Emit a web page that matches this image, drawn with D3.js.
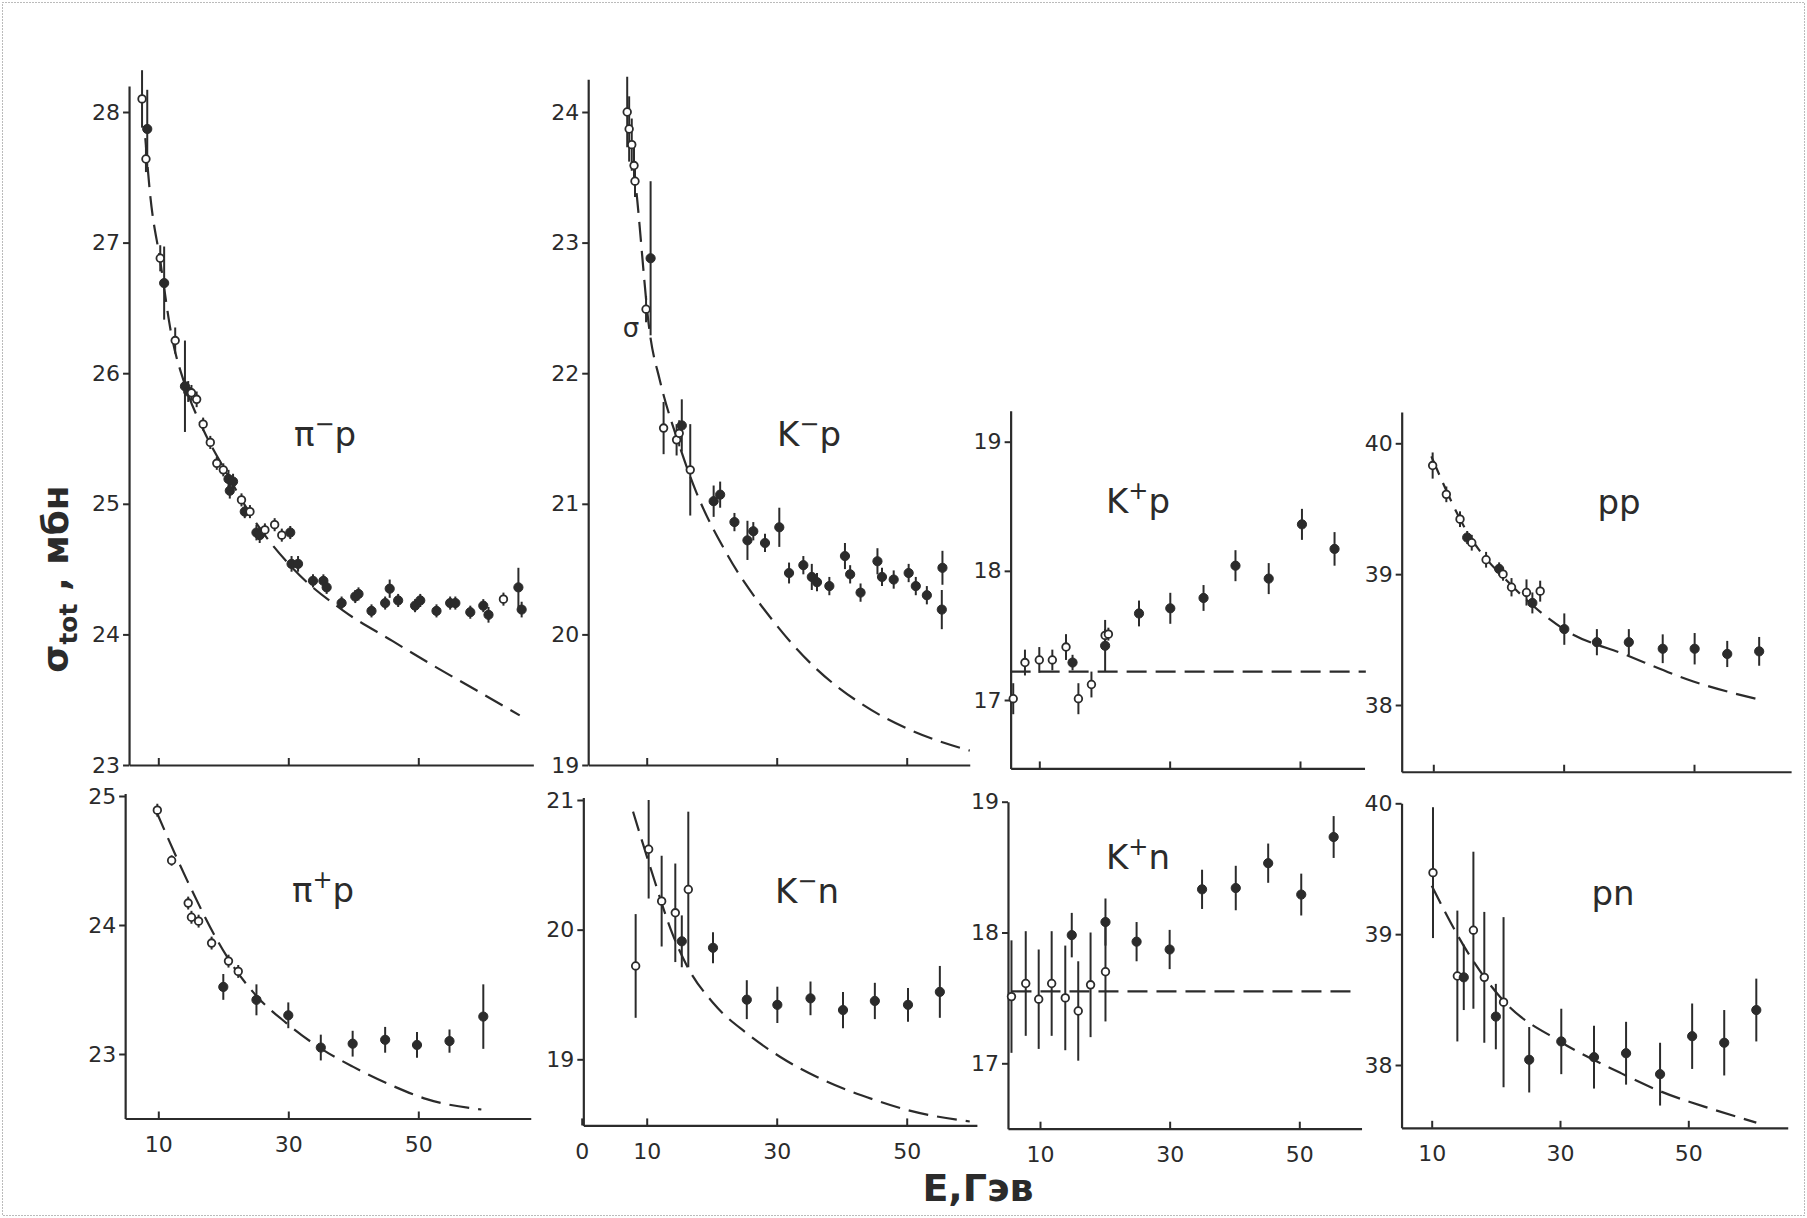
<!DOCTYPE html>
<html>
<head>
<meta charset="utf-8">
<script src="https://cdn.jsdelivr.net/npm/d3@7"></script>
<style>
body{margin:0;background:#fff;}
svg text{font-family:"DejaVu Sans",sans-serif;fill:#2b2b2b;}
</style>
</head>
<body>
<svg id="chart" width="1807" height="1218"></svg>
<script>
// [E (ГэВ), sigma (мб), error, open marker 1 / filled 0]
const pimPData = [
  [7.5,28.1,0.22,1],[8.3,27.87,0.3,0],[8.1,27.64,0.1,1],[10.3,26.88,0.1,1],[10.9,26.69,0.28,0],
  [12.6,26.25,0.1,1],[14.1,25.9,0.35,0],[14.6,25.86,0.08,0],[15.1,25.85,0.06,1],[15.9,25.8,0.06,1],
  [16.9,25.61,0.05,1],[18.0,25.47,0.05,1],[19.0,25.31,0.05,1],[20.0,25.26,0.05,1],[20.8,25.19,0.07,0],
  [21.0,25.1,0.06,0],[21.5,25.17,0.06,0],[22.8,25.03,0.05,1],[23.3,24.94,0.05,0],[24.1,24.94,0.05,1],
  [25.1,24.78,0.06,0],[25.6,24.76,0.06,0],[26.4,24.8,0.05,1],[27.9,24.84,0.05,1],[29.0,24.76,0.05,1],
  [30.3,24.78,0.05,0],[30.5,24.54,0.06,0],[31.5,24.54,0.06,0],[33.8,24.41,0.05,0],[35.4,24.41,0.05,0],
  [35.9,24.36,0.05,0],[38.2,24.24,0.05,0],[40.3,24.29,0.05,0],[40.8,24.31,0.05,0],[42.8,24.18,0.05,0],
  [44.9,24.24,0.05,0],[45.6,24.35,0.07,0],[46.9,24.26,0.05,0],[49.5,24.22,0.05,0],[50.3,24.26,0.05,0],
  [52.8,24.18,0.05,0],[54.9,24.24,0.05,0],[55.7,24.24,0.05,0],[58.0,24.17,0.05,0],[60.0,24.22,0.05,0],
  [60.8,24.15,0.06,0],[63.1,24.27,0.05,1],[65.4,24.36,0.15,0],[65.9,24.19,0.06,0]
];
const pimPCurve = [[8.0,27.8],[8.7,27.39],[10.3,26.86],[12,26.3],[14.1,25.91],[17,25.56],[20,25.28],
  [25.1,24.85],[30.8,24.5],[38.5,24.18],[46,23.95],[52,23.77],[59,23.57],[65.6,23.38]];

const kmPData = [
  [7.0,24.0,0.27,1],[7.3,23.87,0.25,1],[7.7,23.75,0.2,1],[8.05,23.59,0.15,1],[8.2,23.47,0.12,1],
  [10.6,22.88,0.59,0],[9.9,22.49,0.1,1],[12.6,21.58,0.2,1],[14.6,21.49,0.12,1],[15.0,21.54,0.1,1],
  [15.4,21.6,0.2,0],[16.7,21.26,0.35,1],[20.3,21.02,0.12,0],[21.3,21.07,0.1,0],[23.5,20.86,0.07,0],
  [25.5,20.72,0.15,0],[26.4,20.79,0.07,0],[28.2,20.7,0.07,0],[30.4,20.82,0.15,0],[31.9,20.47,0.08,0],
  [34.1,20.53,0.07,0],[35.4,20.44,0.1,0],[36.2,20.4,0.07,0],[38.1,20.37,0.07,0],[40.5,20.6,0.1,0],
  [41.3,20.46,0.07,0],[42.9,20.32,0.07,0],[45.5,20.56,0.1,0],[46.2,20.44,0.07,0],[48.0,20.42,0.07,0],
  [50.3,20.47,0.07,0],[51.4,20.37,0.07,0],[53.1,20.3,0.07,0],[55.5,20.51,0.13,0],[55.4,20.19,0.15,0]
];
const kmPCurve = [[8.0,23.6],[8.5,23.35],[10.5,22.3],[12,21.95],[15,21.45],[17.7,21.08],[22.3,20.62],
  [29.5,20.1],[35.6,19.76],[43.3,19.46],[50,19.28],[59.7,19.11]];

const kpPData = [
  [6.0,17.01,0.12,1],[7.8,17.29,0.1,1],[10,17.31,0.1,1],[12,17.31,0.08,1],[14.1,17.41,0.1,1],
  [15.1,17.29,0.06,0],[16.0,17.01,0.12,1],[18.0,17.12,0.1,1],[20.1,17.42,0.2,0],[20.1,17.5,0.05,1],
  [20.6,17.51,0.05,1],[25.3,17.67,0.1,0],[30.1,17.71,0.12,0],[35.2,17.79,0.1,0],[40.1,18.04,0.12,0],
  [45.2,17.94,0.12,0],[50.3,18.36,0.12,0],[55.3,18.17,0.13,0]
];
const kpPLevel = [[5.6,17.22],[60.1,17.22]];

const ppData = [
  [9.9,39.83,0.1,1],[12.0,39.61,0.06,1],[14.1,39.42,0.06,1],[15.2,39.28,0.05,0],[15.9,39.24,0.06,1],
  [18.1,39.11,0.06,1],[20.1,39.04,0.05,0],[20.7,39.0,0.05,1],[22.0,38.9,0.07,1],[24.3,38.86,0.1,1],
  [25.2,38.78,0.08,0],[26.4,38.87,0.08,1],[30.1,38.58,0.12,0],[35.1,38.48,0.1,0],[40.0,38.48,0.1,0],
  [45.2,38.43,0.11,0],[50.1,38.43,0.12,0],[55.1,38.39,0.1,0],[60.0,38.41,0.11,0]
];
const ppCurve = [[9.7,39.9],[15.1,39.33],[22.3,38.9],[30,38.58],[39.7,38.38],[49.9,38.18],[60.1,38.04]];

const pipPData = [
  [9.85,24.89,0.05,1],[12.05,24.5,0.04,1],[14.6,24.17,0.05,1],[15.1,24.06,0.05,1],[16.2,24.03,0.05,1],
  [18.2,23.86,0.05,1],[20.8,23.72,0.05,1],[22.3,23.64,0.05,1],[20.0,23.52,0.1,0],[25.1,23.42,0.12,0],
  [30.0,23.3,0.1,0],[35.0,23.05,0.1,0],[39.9,23.08,0.1,0],[44.9,23.11,0.1,0],[49.8,23.07,0.1,0],
  [54.8,23.1,0.09,0],[60.0,23.29,0.25,0]
];
const pipPCurve = [[9.7,24.88],[14.4,24.35],[20.5,23.76],[25.1,23.45],[29.7,23.24],[35.4,23.03],[40,22.9],
  [46.2,22.75],[51.3,22.65],[59.7,22.57]];

const kmNData = [
  [8.3,19.72,0.4,1],[10.3,20.62,0.38,1],[12.3,20.22,0.35,1],[14.4,20.13,0.38,1],[15.4,19.91,0.2,0],
  [16.4,20.31,0.6,1],[20.2,19.86,0.12,0],[25.4,19.46,0.15,0],[30.1,19.42,0.14,0],[35.2,19.47,0.13,0],
  [40.2,19.38,0.14,0],[45.1,19.45,0.14,0],[50.2,19.42,0.13,0],[55.1,19.52,0.2,0]
];
const kmNCurve = [[7.9,20.91],[10.5,20.49],[14.1,19.95],[16.2,19.72],[20.3,19.43],[25.4,19.2],[30.5,19.02],
  [37.2,18.84],[44.9,18.69],[50,18.61],[59.7,18.52]];

const kpNData = [
  [5.6,17.51,0.43,1],[7.8,17.61,0.4,1],[9.8,17.49,0.38,1],[11.8,17.61,0.4,1],[13.9,17.5,0.4,1],
  [14.9,17.98,0.17,0],[15.9,17.4,0.38,1],[17.8,17.6,0.4,1],[20.1,17.7,0.38,1],[20.1,18.08,0.18,0],
  [24.9,17.93,0.15,0],[30.0,17.87,0.15,0],[35.0,18.33,0.15,0],[40.2,18.34,0.17,0],[45.2,18.53,0.15,0],
  [50.3,18.29,0.16,0],[55.3,18.73,0.16,0]
];
const kpNLevel = [[5.6,17.55],[58.7,17.55]];

const pnData = [
  [10.2,39.47,0.5,1],[14.0,38.68,0.5,1],[15.0,38.67,0.25,0],[16.5,39.03,0.6,1],[18.2,38.67,0.5,1],
  [20.0,38.37,0.25,0],[21.2,38.48,0.65,1],[25.2,38.04,0.25,0],[30.2,38.18,0.25,0],[35.3,38.06,0.24,0],
  [40.3,38.09,0.24,0],[45.6,37.93,0.24,0],[50.6,38.22,0.25,0],[55.6,38.17,0.25,0],[60.6,38.42,0.24,0]
];
const pnCurve = [[10,39.37],[15.5,38.87],[21.2,38.49],[30,38.18],[39.4,37.94],[45.6,37.8],[53.9,37.66],[60.6,37.56]];

const xTickValues = [10, 30, 50];
const xTickValuesZero = [0, 10, 30, 50];

// panel layout (pixel geometry kept separate from the data)
const panels = [
  {data:pimPData, curve:pimPCurve, title:["π","−","p"], x10:158.3, x50:418.3, xs:5.5, xe:67.7,
   ya:[28,112], yb:[23,765], ys:23, ye:28.2, yt:[23,24,25,26,27,28], xt:xTickValues, xl:false, tx:325, ty:434},
  {data:kmPData, curve:kmPCurve, title:["K","−","p"], x10:646.7, x50:906.7, xs:1, xe:59.7,
   ya:[24,112], yb:[19,765], ys:19, ye:24.25, yt:[19,20,21,22,23,24], xt:xTickValues, xl:false, tx:809, ty:434},
  {data:kpPData, curve:kpPLevel, title:["K","+","p"], x10:1039.3, x50:1300, xs:5.6, xe:59.9,
   ya:[19,441.7], yb:[17,700], ys:16.47, ye:19.24, yt:[17,18,19], xt:xTickValues, xl:false, tx:1138, ty:501},
  {data:ppData, curve:ppCurve, title:["pp"], x10:1433.3, x50:1694, xs:5.15, xe:64.9,
   ya:[40,443.3], yb:[38,705], ys:37.49, ye:40.24, yt:[38,39,40], xt:xTickValues, xl:false, tx:1619, ty:502},
  {data:pipPData, curve:pipPCurve, title:["π","+","p"], x10:158.3, x50:418.3, xs:4.9, xe:67.3,
   ya:[25,796], yb:[23,1054], ys:22.5, ye:25.02, yt:[23,24,25], xt:xTickValues, xl:true, tx:323, ty:890},
  {data:kmNData, curve:kmNCurve, title:["K","−","n"], x10:646.7, x50:906.7, xs:0.25, xe:60.8,
   ya:[21,800], yb:[19,1059.3], ys:18.49, ye:21.02, yt:[19,20,21], xt:xTickValuesZero, xl:true, tx:807, ty:891},
  {data:kpNData, curve:kpNLevel, title:["K","+","n"], x10:1040, x50:1299.3, xs:5.06, xe:59.6,
   ya:[19,801.7], yb:[17,1063.3], ys:16.5, ye:19.0, yt:[17,18,19], xt:xTickValues, xl:true, tx:1138, ty:857},
  {data:pnData, curve:pnCurve, title:["pn"], x10:1431.7, x50:1688.3, xs:5.3, xe:65.5,
   ya:[40,803.3], yb:[38,1065], ys:37.52, ye:40.0, yt:[38,39,40], xt:xTickValues, xl:true, tx:1613, ty:893}
];

const svg = d3.select("#chart");
const ink = "#2b2b2b";

// dotted frame of the scan
svg.append("rect").attr("x",2.5).attr("y",2.5).attr("width",1802).attr("height",1213)
  .attr("fill","none").attr("stroke","#777").attr("stroke-width",1).attr("stroke-dasharray","1,2");

panels.forEach(p => {
  const xb = d3.scaleLinear().domain([10,50]).range([p.x10,p.x50]);
  const x = d3.scaleLinear().domain([p.xs,p.xe]).range([xb(p.xs),xb(p.xe)]);
  const yb = d3.scaleLinear().domain([p.ya[0],p.yb[0]]).range([p.ya[1],p.yb[1]]);
  const y = d3.scaleLinear().domain([p.ys,p.ye]).range([yb(p.ys),yb(p.ye)]);
  const g = svg.append("g");

  const xAxis = g.append("g").attr("transform",`translate(0,${y(p.ys)})`)
    .call(d3.axisBottom(x).tickValues(p.xt).tickSize(-7).tickSizeOuter(0).tickPadding(18)
      .tickFormat(p.xl ? d3.format("d") : () => ""));
  const yAxis = g.append("g").attr("transform",`translate(${x(p.xs)},0)`)
    .call(d3.axisLeft(y).tickValues(p.yt).tickSize(6).tickSizeOuter(0).tickPadding(3)
      .tickFormat(d3.format("d")));
  [xAxis,yAxis].forEach(a => {
    a.attr("font-family",null).attr("font-size",null);
    a.select(".domain").attr("stroke",ink).attr("stroke-width",2.2);
    a.selectAll(".tick line").attr("stroke",ink).attr("stroke-width",2);
    a.selectAll(".tick text").attr("font-size",22).attr("fill",ink);
  });

  // dashed model curve
  g.append("path").datum(p.curve)
    .attr("d", d3.line().x(d => x(d[0])).y(d => y(d[1])).curve(d3.curveMonotoneX))
    .attr("fill","none").attr("stroke",ink).attr("stroke-width",2.2).attr("stroke-dasharray","20,9");

  // error bars
  g.selectAll(".err").data(p.data).enter().append("line")
    .attr("x1",d => x(d[0])).attr("x2",d => x(d[0]))
    .attr("y1",d => y(d[1]-d[2])).attr("y2",d => y(d[1]+d[2]))
    .attr("stroke",ink).attr("stroke-width",2);

  // markers
  g.selectAll(".pt").data(p.data).enter().append("circle")
    .attr("cx",d => x(d[0])).attr("cy",d => y(d[1]))
    .attr("r",d => d[3] ? 3.8 : 4.6)
    .attr("fill",d => d[3] ? "#fff" : ink)
    .attr("stroke",ink).attr("stroke-width",d => d[3] ? 1.8 : 1);

  // reaction label
  const t = g.append("text").attr("x",p.tx).attr("y",p.ty+12)
    .attr("text-anchor","middle").attr("font-size",34);
  if (p.title.length === 1) {
    t.text(p.title[0]);
  } else {
    t.append("tspan").text(p.title[0]);
    t.append("tspan").attr("dy",-14).attr("font-size",24).text(p.title[1]);
    t.append("tspan").attr("dy",14).text(p.title[2]);
  }
});

// small σ mark drawn inside the K−p panel of the original
svg.append("text").attr("x",631).attr("y",337).attr("text-anchor","middle")
  .attr("font-size",26).text("σ");

// axis titles
const yl = svg.append("text").attr("transform","translate(68,579) rotate(-90)")
  .attr("text-anchor","middle").attr("font-size",36).attr("font-weight","bold");
yl.append("tspan").text("σ");
yl.append("tspan").attr("dy",9).attr("font-size",25).text("tot");
yl.append("tspan").attr("dy",-9).text(" , мбн");

svg.append("text").attr("x",978).attr("y",1201).attr("text-anchor","middle")
  .attr("font-size",38).attr("font-weight","bold").text("E,Гэв");
</script>
</body>
</html>
